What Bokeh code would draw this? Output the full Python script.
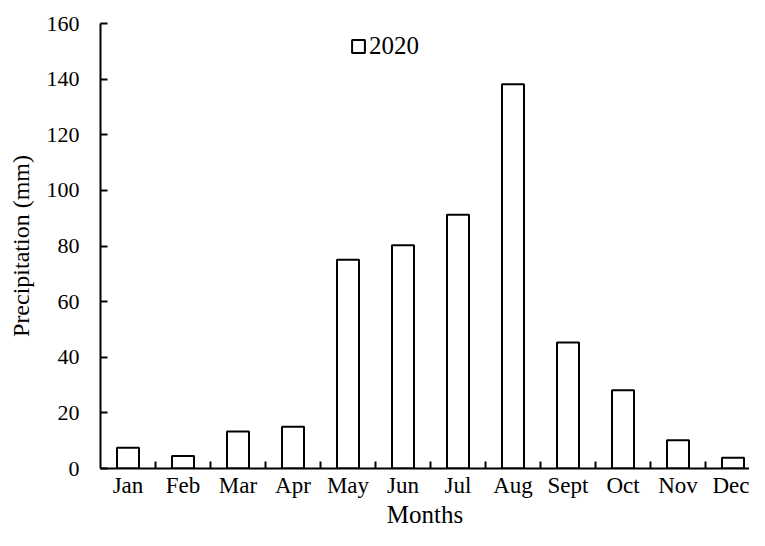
from bokeh.plotting import figure
from bokeh.models import Range1d, FixedTicker, Legend, LegendItem, ColumnDataSource
from bokeh.embed import file_html
from bokeh.resources import INLINE

months = ["Jan", "Feb", "Mar", "Apr", "May", "Jun", "Jul", "Aug", "Sept", "Oct", "Nov", "Dec"]
precip_2020 = [7.5, 4.5, 13.3, 15.0, 75.1, 80.3, 91.2, 138.2, 45.3, 28.1, 10.2, 3.9]
y_ticks = [0, 20, 40, 60, 80, 100, 120, 140, 160]
series_name = "2020"

FONT = "Liberation Serif"

pos = [i + 0.5 for i in range(len(months))]
src = ColumnDataSource(dict(x=pos, top=precip_2020, month=months))

p = figure(width=749, height=530, output_backend="svg", toolbar_location=None,
           x_range=Range1d(0, 11.8), y_range=Range1d(0, 160),
           min_border_left=100, min_border_right=0, min_border_top=23, min_border_bottom=60)
p.outline_line_color = None
p.xgrid.visible = False
p.ygrid.visible = False
p.background_fill_color = "white"
p.border_fill_color = "white"

r = p.vbar(x="x", top="top", bottom=0, width=0.4, source=src,
           fill_color="white", line_color="black", line_width=2)

# x axis
xa = p.xaxis[0]
xa.ticker = FixedTicker(ticks=pos, minor_ticks=[i for i in range(1, len(months))])
xa.major_label_overrides = {pv: m for pv, m in zip(pos, months)}
xa.major_tick_in = 0
xa.major_tick_out = 0
xa.minor_tick_in = 7
xa.minor_tick_out = 0
xa.minor_tick_line_width = 2
xa.minor_tick_line_color = "black"
xa.axis_line_width = 2
xa.axis_line_color = "black"
xa.major_label_text_font = FONT
xa.major_label_text_font_size = "23px"
xa.major_label_text_color = "black"
xa.major_label_standoff = 4
xa.axis_label = "Months"
xa.axis_label_text_font = FONT
xa.axis_label_text_font_size = "25px"
xa.axis_label_text_font_style = "normal"
xa.axis_label_text_color = "black"
xa.axis_label_standoff = 0

# y axis
ya = p.yaxis[0]
ya.ticker = FixedTicker(ticks=y_ticks, minor_ticks=[])
ya.major_tick_in = 7
ya.major_tick_out = 0
ya.major_tick_line_width = 2
ya.major_tick_line_color = "black"
ya.minor_tick_in = 0
ya.minor_tick_out = 0
ya.axis_line_width = 2
ya.axis_line_color = "black"
ya.major_label_text_font = FONT
ya.major_label_text_font_size = "22px"
ya.major_label_text_color = "black"
ya.major_label_standoff = 21
ya.axis_label = "Precipitation (mm)"
ya.axis_label_text_font = FONT
ya.axis_label_text_font_size = "24px"
ya.axis_label_text_font_style = "normal"
ya.axis_label_text_color = "black"
ya.axis_label_standoff = 10

legend = Legend(items=[LegendItem(label=series_name, renderers=[r])],
                location=(250, 408), orientation="vertical",
                glyph_width=16, glyph_height=16, label_height=28,
                label_standoff=3, padding=0, margin=0, spacing=0,
                border_line_color=None, background_fill_alpha=0,
                label_text_font=FONT, label_text_font_size="25px",
                label_text_color="black")
p.add_layout(legend)

open("out.html", "w").write(file_html(p, INLINE))
